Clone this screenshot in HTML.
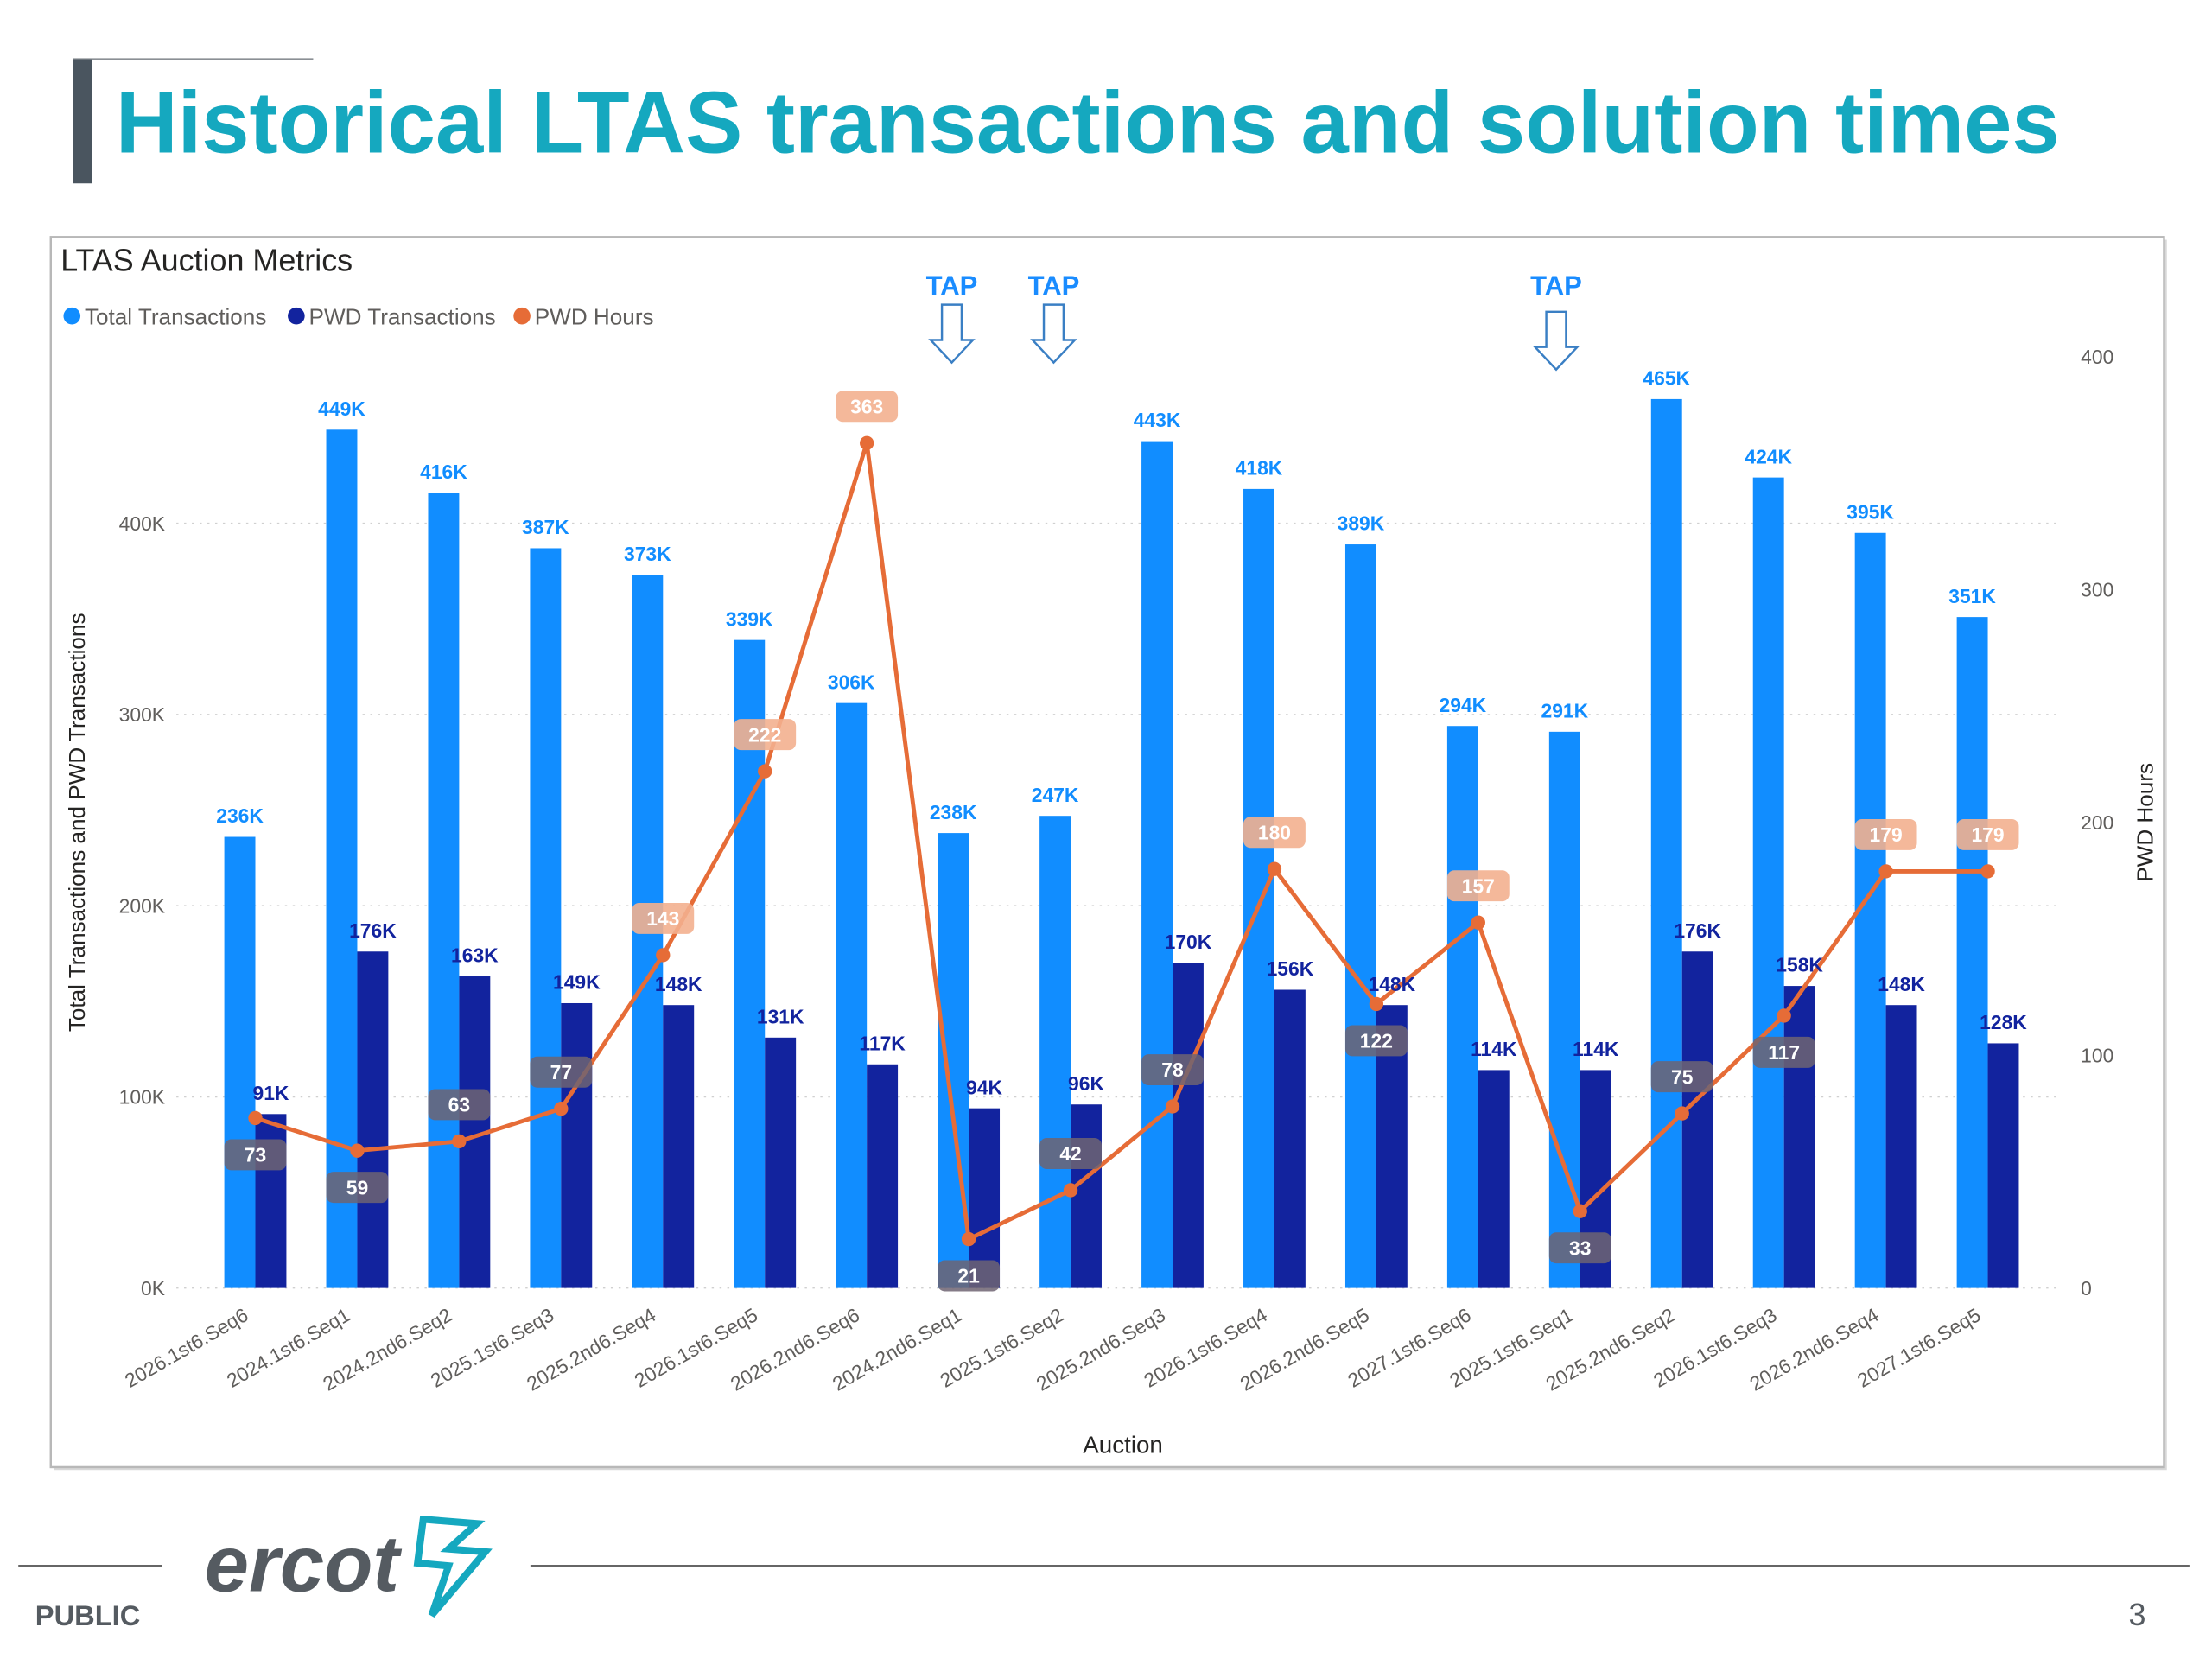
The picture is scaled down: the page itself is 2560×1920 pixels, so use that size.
<!DOCTYPE html>
<html><head><meta charset="utf-8"><style>
html,body{margin:0;padding:0;background:#fff;}
svg{display:block;}
text{font-family:"Liberation Sans Narrow","Liberation Sans",sans-serif;}
</style></head><body>
<svg id="chart" width="2560" height="1920" viewBox="0 0 1568 1176" preserveAspectRatio="none" xmlns="http://www.w3.org/2000/svg">
<rect x="0" y="0" width="1568" height="1176" fill="#fff"/>
<line x1="52" y1="42" x2="222" y2="42" stroke="#8a8f94" stroke-width="1.5"/>
<rect x="52" y="42" width="13" height="88" fill="#4a555f"/>
<text x="82" y="108" font-size="62" font-weight="bold" fill="#15a8bf" textLength="1378" lengthAdjust="spacingAndGlyphs" style="font-family:'Liberation Sans',sans-serif">Historical LTAS transactions and solution times</text>
<rect x="38" y="170" width="1498" height="872" fill="#d8d8d8"/>
<rect x="36" y="168" width="1498" height="872" fill="#fff" stroke="#b8b8b8" stroke-width="1.5"/>
<text x="43" y="192" font-size="22" fill="#252423">LTAS Auction Metrics</text>
<g>
<circle cx="51" cy="224" r="6" fill="#118dff"/>
<text x="60" y="230" font-size="16" fill="#605e5c">Total Transactions</text>
<circle cx="210" cy="224" r="6" fill="#12239e"/>
<text x="219" y="230" font-size="16" fill="#605e5c">PWD Transactions</text>
<circle cx="370" cy="224" r="6" fill="#e66c37"/>
<text x="379" y="230" font-size="16" fill="#605e5c">PWD Hours</text>
</g>
<g id="grid"></g><g id="bars"></g><g id="line"></g><g id="labels"></g><g id="axes"></g>
<g id="taps"></g>
<text transform="translate(60,583) rotate(-90)" text-anchor="middle" font-size="16" fill="#252423" style="font-family:'Liberation Sans',sans-serif">Total Transactions and PWD Transactions</text>
<text transform="translate(1526,583) rotate(-90)" text-anchor="middle" font-size="16" fill="#252423" style="font-family:'Liberation Sans',sans-serif">PWD Hours</text>
<text x="796" y="1030" text-anchor="middle" font-size="17" fill="#252423">Auction</text>
<line x1="13" y1="1110" x2="115" y2="1110" stroke="#666" stroke-width="1.5"/>
<line x1="376" y1="1110" x2="1552" y2="1110" stroke="#666" stroke-width="1.5"/>
<text x="145" y="1128" font-size="56" font-style="italic" font-weight="bold" fill="#555b61" textLength="138" lengthAdjust="spacingAndGlyphs">ercot</text>
<path d="M300 1077 L338 1080 L318 1098 L344 1100 L306 1145 L318 1110 L296 1108 Z" fill="none" stroke="#15a8bf" stroke-width="5"/>
<text x="25" y="1152" font-size="20" font-weight="bold" fill="#555b61" style="font-family:'Liberation Sans',sans-serif">PUBLIC</text>
<text x="1515" y="1152" font-size="22" fill="#555b61" text-anchor="middle">3</text>
</svg>
<script>
const categories=["2026.1st6.Seq6","2024.1st6.Seq1","2024.2nd6.Seq2","2025.1st6.Seq3","2025.2nd6.Seq4","2026.1st6.Seq5","2026.2nd6.Seq6","2024.2nd6.Seq1","2025.1st6.Seq2","2025.2nd6.Seq3","2026.1st6.Seq4","2026.2nd6.Seq5","2027.1st6.Seq6","2025.1st6.Seq1","2025.2nd6.Seq2","2026.1st6.Seq3","2026.2nd6.Seq4","2027.1st6.Seq5"];
const totalTx=[236,449,416,387,373,339,306,238,247,443,418,389,294,291,465,424,395,351];
const pwdTx=[91,176,163,149,148,131,117,94,96,170,156,148,114,114,176,158,148,128];
const pwdHours=[73,59,63,77,143,222,363,21,42,78,180,122,157,33,75,117,179,179];
const hourLabelAbove=[0,0,1,1,1,1,1,0,1,1,1,0,1,0,1,0,1,1];
const leftTicks=[0,100,200,300,400];
const rightTicks=[0,100,200,300,400];
const tapCategories=[7,8,13];

const NS="http://www.w3.org/2000/svg";
function mk(tag,attrs,parent,txt){const e=document.createElementNS(NS,tag);for(const k in attrs)e.setAttribute(k,attrs[k]);if(txt!==undefined)e.textContent=txt;parent.appendChild(e);return e;}
const y0=913;
function yL(v){return y0-v*135.5/100;}
function yR(v){return y0-v*165/100;}
function xC(i){return 181+i*72.24;}
const G=id=>document.getElementById(id);

leftTicks.forEach(t=>{
 const l=mk('line',{x1:125,x2:1460,y1:yL(t),y2:yL(t),stroke:'#d0d0d0','stroke-dasharray':'1.5 4','stroke-width':1},G('grid'));
 
 
 const tx=mk('text',{x:117,y:yL(t)+5,'text-anchor':'end','font-size':14,fill:'#605e5c'},G('axes'),t+'K');
 
 
});
rightTicks.forEach(t=>{
 const tx=mk('text',{x:1475,y:yR(t)+5,'font-size':14,fill:'#605e5c'},G('axes'),String(t));
 
 
});
categories.forEach((c,i)=>{
 const cx=xC(i);
 const b1=mk('rect',{x:cx-22,y:yL(totalTx[i]),width:22,height:y0-yL(totalTx[i]),fill:'#118dff'},G('bars'));
 
 
 const b2=mk('rect',{x:cx,y:yL(pwdTx[i]),width:22,height:y0-yL(pwdTx[i]),fill:'#12239e'},G('bars'));
 
 
 const l1=mk('text',{x:cx-11,y:yL(totalTx[i])-10,'text-anchor':'middle','font-size':14,'font-weight':'bold',fill:'#118dff'},G('labels'),totalTx[i]+'K');
 
 
 const l2=mk('text',{x:cx+11,y:yL(pwdTx[i])-10,'text-anchor':'middle','font-size':14,'font-weight':'bold',fill:'#12239e'},G('labels'),pwdTx[i]+'K');
 
 
 const xl=mk('text',{transform:'translate('+(cx-4)+',935) rotate(-30)','text-anchor':'end','font-size':14,fill:'#605e5c'},G('axes'),c);
 
 
});
const pts=pwdHours.map((v,i)=>xC(i)+','+yR(v)).join(' ');
const pl=mk('polyline',{points:pts,fill:'none',stroke:'#e66c37','stroke-width':3},G('line'));


pwdHours.forEach((v,i)=>{
 const cx=xC(i),cy=yR(v);
 const d=mk('circle',{cx:cx,cy:cy,r:5,fill:'#e66c37'},G('line'));
 
 
 const ly=hourLabelAbove[i]?cy-26:cy+26;
 const hi=v>=140;
 const bx=mk('rect',{x:cx-22,y:ly-11,width:44,height:22,rx:5,fill:hi?'#f3b08f':'#6e6472','fill-opacity':hi?0.9:0.85},G('labels'));
 
 
 const t=mk('text',{x:cx,y:ly+5,'text-anchor':'middle','font-size':14,'font-weight':'bold',fill:'#fff'},G('labels'),String(v));
 
 
});
tapCategories.forEach((ci,k)=>{
 const cx=xC(ci)-(ci===13?17:12);
 const t=mk('text',{x:cx,y:209,'text-anchor':'middle','font-size':19,'font-weight':'bold',fill:'#1a8cff',style:"font-family:'Liberation Sans',sans-serif"},G('taps'),'TAP');
 
 
 const top=ci===13?221:216, bot=ci===13?262:257;
 const a=mk('path',{d:`M${cx-7} ${top} H${cx+7} V${bot-16} H${cx+15} L${cx} ${bot} L${cx-15} ${bot-16} H${cx-7} Z`,fill:'#fff',stroke:'#3a7fc4','stroke-width':1.5},G('taps'));
 
 
});
</script>
</body></html>
